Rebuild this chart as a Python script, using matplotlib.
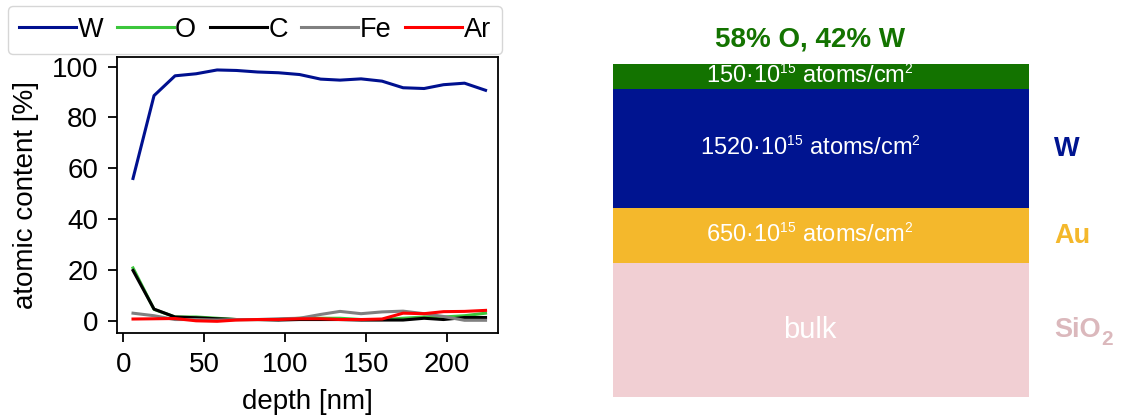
import matplotlib
matplotlib.use("Agg")
import matplotlib.pyplot as plt
import matplotlib._mathtext as _mt

plt.rcParams['font.family'] = ['Liberation Sans', 'DejaVu Sans']
plt.rcParams['mathtext.fontset'] = 'custom'
plt.rcParams['mathtext.rm'] = 'Liberation Sans'
plt.rcParams['mathtext.it'] = 'Liberation Sans:italic'
plt.rcParams['mathtext.bf'] = 'Liberation Sans:bold'
# smaller superscripts for the areal-density labels
_mt.SHRINK_FACTOR = 0.58

# depth profile (nm) and atomic content (%)
depth = [6, 19, 32, 45, 58, 70, 83, 96, 109, 122, 134, 147, 160, 173, 186, 198, 211, 224]
W  = [56.0, 88.6, 96.4, 97.2, 98.7, 98.5, 97.9, 97.6, 96.9, 95.1, 94.7, 95.2, 94.3, 91.7, 91.4, 92.9, 93.5, 90.7]
O  = [20.8, 4.5, 1.5, 1.5, 1.0, 0.5, 0.5, 0.5, 1.0, 1.0, 1.0, 0.5, 0.5, 1.0, 1.5, 1.5, 2.0, 3.0]
C  = [19.8, 4.6, 1.5, 1.2, 0.8, 0.5, 0.5, 0.3, 0.5, 0.5, 0.5, 0.3, 0.3, 0.3, 1.0, 0.5, 1.3, 1.3]
Fe = [3.0, 2.0, 0.5, 0.5, 0.3, 0.5, 0.5, 0.8, 1.0, 2.5, 3.7, 2.8, 3.5, 3.8, 2.8, 1.7, 0.2, 0.2]
Ar = [0.7, 0.8, 0.9, 0.0, -0.2, 0.3, 0.5, 0.5, 0.8, 0.8, 0.5, 0.5, 0.7, 3.0, 2.8, 3.6, 3.7, 4.1]

series_names = ['W', 'O', 'C', 'Fe', 'Ar']
series_values = [W, O, C, Fe, Ar]
series_colors = ['#00108f', '#3cc63c', '#000000', '#808080', '#ff0000']

# layer stack (top to bottom)
layer_labels = ['150·10$^{15}$ atoms/cm$^2$', '1520·10$^{15}$ atoms/cm$^2$',
                '650·10$^{15}$ atoms/cm$^2$', 'bulk']
layer_names = [('', ''), ('W', ''), ('Au', ''), ('SiO', '2')]
layer_thickness = [25, 119, 55, 134]
layer_colors = ['#137300', '#001490', '#f4b82c', '#f1cfd3']
name_colors = ['#137300', '#001490', '#f4b82c', '#dbb8bc']
top_label = '58% O, 42% W'

W_px, H_px = 1126, 419
fig = plt.figure(figsize=(W_px / 100, H_px / 100), dpi=100)

# --- depth profile ---
ax = fig.add_axes([117 / W_px, 1 - 333 / H_px, (498 - 117) / W_px, (333 - 57) / H_px])
for name, vals, col in zip(series_names, series_values, series_colors):
    ax.plot(depth, vals, color=col, lw=2.2, label=name)
ax.set_xlim(-3.9, 231.7)
ax.set_ylim(-4.8, 103.8)
ax.set_xticks([0, 50, 100, 150, 200])
ax.set_yticks([0, 20, 40, 60, 80, 100])
ax.tick_params(labelsize=20, width=1.3, length=6.5, pad=7)
for s in ax.spines.values():
    s.set_linewidth(1.3)
ax.set_xlabel('depth [nm]', fontsize=20, labelpad=8)
ax.set_ylabel('atomic content [%]', fontsize=20, labelpad=9)
ax.legend(loc='lower center', bbox_to_anchor=(0.362, 1.0), ncol=5, fontsize=19.5,
          handlelength=2.1, handletextpad=0.06, columnspacing=0.5,
          borderpad=0.42, borderaxespad=0.1, frameon=True)

# --- layer stack ---
total = sum(layer_thickness)
ax2 = fig.add_axes([613 / W_px, 1 - 397 / H_px, (1029 - 613) / W_px, total / H_px])
ax2.set_xlim(0, 1)
ax2.set_ylim(0, total)
ax2.axis('off')
cx = 0.474
top = total
for lab, (name, sub), th, col, ncol in zip(layer_labels, layer_names, layer_thickness,
                                           layer_colors, name_colors):
    bottom = top - th
    ax2.bar(0.5, th, width=1.0, bottom=bottom, color=col, edgecolor='none')
    ax2.text(cx, bottom + th / 2, lab, ha='center', va='center',
             color='white', fontsize=21 if lab == 'bulk' else 17)
    if name:
        t = ax2.text(1.061, bottom + th / 2, name, ha='left', va='center',
                     color=ncol, fontsize=19.5, fontweight='bold')
        if sub:
            ax2.annotate(sub, xy=(1.0, 0.0), xycoords=t, xytext=(0.5, -4.5),
                         textcoords='offset points', ha='left', va='bottom',
                         color=ncol, fontsize=15, fontweight='bold')
    top = bottom
ax2.text(cx, total + 12, top_label, ha='center', va='bottom',
         color=layer_colors[0], fontsize=20, fontweight='bold', clip_on=False)

fig.savefig('out.png', dpi=100)
